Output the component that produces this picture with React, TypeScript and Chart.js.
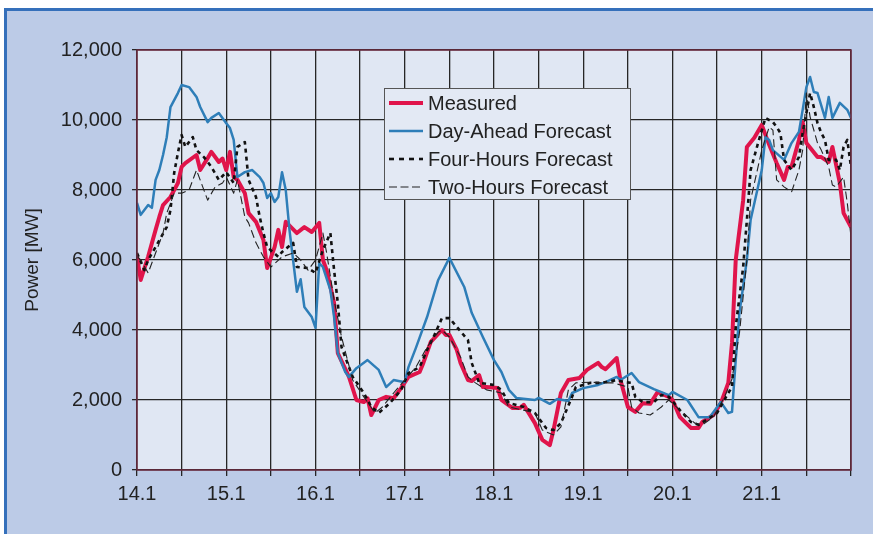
import { useEffect, useRef } from "react";
import { Chart, registerables } from "chart.js";

Chart.register(...registerables);

const FONT = '"Liberation Sans", Arial, Helvetica, sans-serif';

// Time axis is in hours from 14.1 00:00; one day = 24 h, 8 days shown.
const dayLabels = ["14.1", "15.1", "16.1", "17.1", "18.1", "19.1", "20.1", "21.1"];
const seriesNames = ["Measured", "Day-Ahead Forecast", "Four-Hours Forecast", "Two-Hours Forecast"];

const measuredHours = [0, 1, 3, 5, 6, 7, 9, 11, 12, 13, 16, 17, 19, 20, 22, 23, 24, 25, 26, 27, 29, 30, 32, 34, 35, 37, 38, 39, 40, 43, 45, 47, 49, 50, 51, 53, 54, 57, 59, 61, 62, 63, 65, 67, 69, 71, 73, 76, 77, 79, 82, 83, 84, 86, 87, 89, 90, 92, 93, 94, 97, 98, 101, 103, 104, 107, 109, 111, 112, 114, 116, 119, 121, 124, 125, 126, 129, 130, 132, 134, 136, 138, 140, 143, 144, 146, 149, 151, 152, 155, 157, 159, 160, 161, 163, 164, 166, 168, 170, 172, 174, 175, 176, 178, 179, 180, 183, 184, 186, 187, 189, 190, 192];
const measuredMW = [6100, 5430, 6100, 6860, 7230, 7570, 7800, 8200, 8660, 8770, 9000, 8570, 8910, 9090, 8800, 8900, 8570, 9090, 8370, 8290, 7910, 7340, 7090, 6570, 5770, 6370, 6860, 6370, 7090, 6770, 6940, 6800, 7060, 6000, 5710, 4770, 3340, 2660, 2000, 1940, 2050, 1570, 2000, 2090, 2050, 2340, 2660, 2800, 3060, 3660, 4000, 3860, 3860, 3430, 3060, 2570, 2540, 2710, 2370, 2370, 2340, 2000, 1770, 1770, 1860, 1340, 860, 710, 1140, 2200, 2570, 2630, 2860, 3060, 2940, 2880, 3200, 2570, 1800, 1660, 1910, 1890, 2230, 2090, 2000, 1510, 1200, 1200, 1370, 1570, 1910, 2490, 3630, 6000, 7710, 9230, 9490, 9860, 9290, 8770, 8290, 8660, 8660, 9430, 9940, 9340, 8940, 8940, 8800, 9230, 8200, 7340, 6940];

const dayAheadHours = [0, 1, 3, 4, 5, 6, 7, 8, 9, 11, 12, 14, 16, 17, 19, 20, 22, 24, 25, 26, 27, 29, 31, 33, 34, 35, 36, 37, 38, 39, 40, 41, 43, 44, 45, 47, 48, 49, 50, 52, 53, 54, 56, 57, 59, 62, 65, 67, 69, 72, 73, 75, 78, 81, 84, 88, 90, 93, 96, 98, 100, 102, 107, 108, 111, 113, 116, 117, 120, 124, 126, 129, 130, 133, 135, 139, 143, 144, 148, 151, 154, 157, 159, 160, 161, 162, 164, 165, 167, 168, 169, 170, 171, 174, 176, 178, 179, 180, 181, 182, 183, 185, 186, 187, 189, 191, 192];
const dayAheadMW = [7630, 7290, 7570, 7490, 8290, 8570, 9000, 9510, 10370, 10770, 11000, 10940, 10660, 10370, 9940, 10060, 10200, 9910, 9770, 9430, 8370, 8510, 8570, 8370, 8200, 7770, 7910, 7660, 7800, 8510, 8000, 6860, 5090, 5450, 4660, 4370, 4060, 5910, 5800, 5140, 4370, 3340, 2800, 2660, 2910, 3140, 2860, 2370, 2570, 2510, 2940, 3490, 4370, 5430, 6060, 5230, 4490, 3800, 3140, 2800, 2290, 2060, 2000, 2060, 1890, 2030, 1970, 2200, 2340, 2430, 2510, 2660, 2570, 2770, 2510, 2310, 2140, 2230, 2000, 1510, 1510, 1940, 1630, 1660, 3140, 4490, 6000, 7140, 8090, 8570, 9510, 9430, 9140, 8860, 9340, 9660, 10290, 10940, 11230, 10800, 10770, 10060, 10660, 10060, 10490, 10290, 10060];

const fourHoursHours = [0, 2, 3, 5, 8, 9, 10, 11, 12, 13, 15, 16, 18, 20, 22, 24, 26, 27, 29, 30, 32, 33, 34, 35, 38, 39, 42, 43, 46, 48, 50, 52, 53, 54, 55, 58, 61, 63, 65, 68, 71, 73, 76, 78, 80, 82, 84, 86, 89, 90, 92, 96, 98, 100, 104, 107, 110, 112, 114, 117, 118, 122, 125, 127, 129, 131, 133, 134, 136, 139, 141, 143, 146, 149, 151, 154, 156, 159, 160, 161, 163, 164, 165, 167, 169, 171, 172, 173, 174, 176, 178, 179, 181, 182, 183, 184, 185, 186, 188, 189, 190, 191, 192];
const fourHoursMW = [6200, 5710, 6000, 6370, 6940, 7430, 8490, 9060, 9570, 9230, 9510, 9140, 8940, 8660, 8290, 8510, 8200, 9230, 9370, 8290, 7800, 7230, 6770, 6370, 6090, 6230, 6490, 5800, 5770, 5630, 6290, 6770, 5710, 4770, 3510, 2660, 2200, 1800, 1630, 1910, 2290, 2770, 2940, 3430, 3860, 4340, 4340, 4090, 3710, 3060, 2490, 2430, 2290, 1910, 1800, 1630, 1200, 1140, 1340, 2090, 2370, 2490, 2490, 2530, 2570, 2510, 2490, 2090, 1940, 1940, 2140, 2090, 1710, 1370, 1290, 1490, 1630, 2200, 2370, 4090, 5800, 7140, 8570, 9340, 10060, 9940, 9800, 9630, 8860, 8570, 8940, 9630, 10770, 10370, 9910, 9630, 9430, 8860, 8860, 8570, 9230, 9430, 8660];

const twoHoursHours = [0, 1, 3, 5, 7, 8, 10, 12, 14, 16, 19, 21, 23, 24, 26, 27, 29, 30, 32, 34, 36, 39, 42, 44, 46, 48, 50, 51, 53, 55, 58, 61, 64, 66, 69, 72, 75, 78, 81, 82, 84, 87, 89, 91, 94, 98, 100, 104, 107, 109, 112, 114, 116, 118, 122, 125, 128, 132, 133, 135, 138, 141, 143, 146, 150, 152, 155, 158, 160, 162, 164, 165, 167, 168, 170, 171, 172, 174, 176, 178, 179, 180, 181, 183, 184, 186, 187, 188, 190, 191, 192];
const twoHoursMW = [6100, 6000, 5630, 6200, 6770, 7340, 7910, 7910, 8000, 8570, 7710, 8090, 8200, 8370, 7910, 8290, 7230, 7060, 6490, 6090, 5800, 6090, 6200, 6000, 5710, 6000, 6770, 6200, 4860, 3800, 2570, 2090, 1630, 1800, 2200, 2570, 2940, 3510, 3940, 4000, 3800, 3230, 2660, 2490, 2290, 2200, 1800, 1710, 1630, 1140, 1000, 1230, 2290, 2490, 2510, 2490, 2490, 2370, 1800, 1630, 1570, 1800, 2000, 1710, 1340, 1290, 1510, 2090, 2600, 3910, 6000, 7710, 8660, 9140, 9800, 9710, 8290, 8090, 7940, 8570, 9140, 10770, 10090, 9340, 9140, 8660, 8140, 8090, 8370, 7630, 6660];

const seriesColors = ["#e0144b", "#2e7eb8", "#111111", "#222222"];
const seriesWidths = [4, 2.5, 2.6, 1.1];
const seriesDashes: number[][] = [[], [], [4, 4], [8, 4]];

const toPoints = (hours: number[], values: number[]) =>
  hours.map((h, i) => ({ x: h, y: values[i] }));

const plotFill = {
  id: "plotFill",
  beforeDraw(chart: any) {
    const { ctx, chartArea: a } = chart;
    ctx.save();
    ctx.fillStyle = "#e0e7f3";
    ctx.fillRect(a.left, a.top, a.right - a.left, a.bottom - a.top);
    ctx.restore();
  },
};

const frameLegendTitle = {
  id: "frameLegendTitle",
  afterDraw(chart: any) {
    const { ctx, chartArea: a } = chart;
    ctx.save();
    // plot frame
    ctx.strokeStyle = "#6b2a3f";
    ctx.lineWidth = 1.5;
    ctx.strokeRect(a.left, a.top, a.right - a.left, a.bottom - a.top);

    // legend box
    const bx = 384.5, by = 88.5, bw = 246, bh = 111;
    ctx.fillStyle = "#e3e9f4";
    ctx.fillRect(bx, by, bw, bh);
    ctx.strokeStyle = "#555555";
    ctx.lineWidth = 1;
    ctx.strokeRect(bx, by, bw, bh);
    const rows = [103, 131, 159, 187];
    ctx.font = `20px ${FONT}`;
    ctx.textBaseline = "middle";
    ctx.textAlign = "left";
    seriesNames.forEach((name, i) => {
      ctx.beginPath();
      ctx.strokeStyle = seriesColors[i];
      ctx.lineWidth = seriesWidths[i];
      ctx.setLineDash(i === 2 ? [5, 5] : i === 3 ? [8, 3.5] : []);
      ctx.moveTo(389, rows[i]);
      ctx.lineTo(423, rows[i]);
      ctx.stroke();
      ctx.setLineDash([]);
      ctx.fillStyle = "#222222";
      ctx.fillText(name, 428, rows[i] + 1);
    });

    // y axis title
    ctx.translate(33, 260);
    ctx.rotate(-Math.PI / 2);
    ctx.textAlign = "center";
    ctx.textBaseline = "middle";
    ctx.fillStyle = "#222222";
    ctx.font = `19px ${FONT}`;
    ctx.fillText("Power [MW]", 0, 0);
    ctx.restore();
  },
};

export default function App() {
  const canvasRef = useRef<HTMLCanvasElement | null>(null);

  useEffect(() => {
    const canvas = canvasRef.current;
    if (!canvas) return;
    const lineSets = [
      toPoints(measuredHours, measuredMW),
      toPoints(dayAheadHours, dayAheadMW),
      toPoints(fourHoursHours, fourHoursMW),
      toPoints(twoHoursHours, twoHoursMW),
    ];
    const drawOrder = [3, 2, 1, 0];
    const chart = new Chart(canvas, {
      type: "line",
      data: {
        datasets: seriesNames.map((name, i) => ({
          label: name,
          data: lineSets[i],
          borderColor: seriesColors[i],
          borderWidth: seriesWidths[i],
          borderDash: seriesDashes[i],
          pointRadius: 0,
          tension: 0,
          fill: false,
          order: drawOrder[i],
          borderJoinStyle: "round" as const,
        })),
      },
      options: {
        animation: false,
        responsive: false,
        maintainAspectRatio: false,
        parsing: true,
        layout: { padding: { left: 0, top: 50, right: 22, bottom: 0 } },
        plugins: {
          legend: { display: false },
          tooltip: { enabled: false },
          title: { display: false },
        },
        scales: {
          x: {
            type: "linear",
            min: 0,
            max: 192,
            afterFit: (s: any) => {
              s.height = 64;
            },
            border: { display: false },
            grid: {
              color: "#262626",
              lineWidth: 1.3,
              tickLength: 6,
              tickColor: "#262626",
            },
            ticks: {
              stepSize: 12,
              autoSkip: false,
              maxRotation: 0,
              padding: 6,
              color: "#222222",
              font: { family: FONT, size: 20 },
              callback: (v: any) => {
                const n = Number(v);
                return n % 24 === 0 && n < 192 ? dayLabels[n / 24] : "";
              },
            },
          },
          y: {
            min: 0,
            max: 12000,
            afterFit: (s: any) => {
              s.width = 137;
            },
            border: { display: false },
            grid: {
              color: "#262626",
              lineWidth: 1.3,
              tickLength: 5,
              tickColor: "#262626",
            },
            ticks: {
              stepSize: 2000,
              padding: 10,
              color: "#222222",
              font: { family: FONT, size: 20 },
              callback: (v: any) => Number(v).toLocaleString("en-US"),
            },
          },
        },
      },
      plugins: [plotFill, frameLegendTitle],
    });
    return () => chart.destroy();
  }, []);

  return (
    <div
      style={{
        position: "fixed",
        left: 0,
        top: 0,
        width: 873,
        height: 534,
        background: "#ffffff",
        overflow: "hidden",
      }}
    >
      <div
        style={{
          position: "absolute",
          left: 4,
          top: 8,
          right: 0,
          bottom: 0,
          background: "#bccbe7",
          borderTop: "3px solid #3570bb",
          borderLeft: "3px solid #3570bb",
          boxSizing: "border-box",
        }}
      />
      <canvas
        ref={canvasRef}
        width={873}
        height={534}
        style={{ position: "absolute", left: 0, top: 0, width: 873, height: 534 }}
      />
    </div>
  );
}
